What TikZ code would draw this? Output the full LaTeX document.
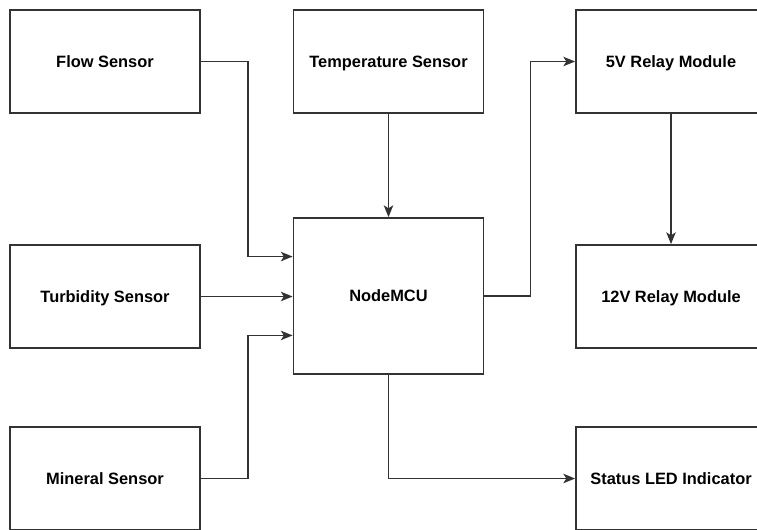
\documentclass[tikz,border=0pt]{standalone}
\usepackage{fontspec}
\setmainfont{Liberation Sans}
\usepackage{tikz}
\usetikzlibrary{calc, positioning, arrows.meta}

\begin{document}
\begin{tikzpicture}[>={Stealth[length=10pt, width=8pt, inset=2.5pt]}, x=0.03cm, y=-0.03cm,
    block/.style={draw=black!80, line width=1.5pt, fill=white, minimum width=5.7cm,
        minimum height=3.09cm, inner sep=0pt, text height=10pt, text depth=0pt,
        font=\fontsize{14}{17}\selectfont\bfseries},
    wire/.style={draw=black!80, line width=1.5pt}]

    % page frame
    \useasboundingbox (0,0) rectangle (757,529);
    \clip (0,0) rectangle (757,529);

    % left column: sensors
    \node[block] (flow)    at (105,61.5)  {Flow Sensor};
    \node[block] (turb)    at (105,296.5) {Turbidity Sensor};
    \node[block] (mineral) at (105,478.5) {Mineral Sensor};

    % middle column
    \node[block] (temp) at (388.5,61.5) {Temperature Sensor};
    \node[block, minimum height=4.68cm] (mcu) at (388.5,296) {NodeMCU};

    % right column: outputs
    \node[block] (relayfive)   at (671,61.5)  {5V Relay Module};
    \node[block] (relaytwelve) at (671,296.5) {12V Relay Module};
    \node[block] (led)         at (671,478.5) {Status LED Indicator};

    % entry points on the NodeMCU
    \coordinate (inflow) at ($(mcu.north west)!0.25!(mcu.south west)$);
    \coordinate (inmin)  at ($(mcu.north west)!0.75!(mcu.south west)$);

    % connectors
    \draw[wire, ->] (flow.east) -- ++(47,0) |- (inflow);
    \draw[wire, ->] (turb.east) -- (turb.east -| mcu.west);
    \draw[wire, ->] (mineral.east) -- ++(47,0) |- (inmin);
    \draw[wire, ->] (temp.south) -- (mcu.north);
    \draw[wire, ->] (mcu.east) -- ++(46,0) |- (relayfive.west);
    \draw[wire, ->] (relayfive.south) -- (relaytwelve.north);
    \draw[wire, ->] (mcu.south) |- (led.west);

\end{tikzpicture}
\end{document}
